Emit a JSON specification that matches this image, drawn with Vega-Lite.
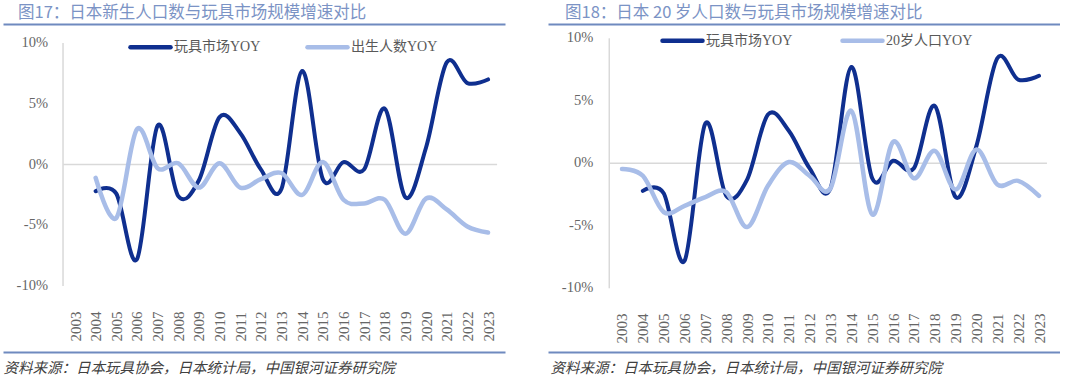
{
  "$schema": "https://vega.github.io/schema/vega-lite/v6.json",
  "background": "white",
  "padding": {"left": 3, "top": 4, "right": 0, "bottom": 0},
  "spacing": 43,
  "resolve": {"scale": {"color": "independent"}, "legend": {"color": "independent"}},
  "config": {"view": {"stroke": null}, "font": "Noto Sans CJK SC"},
  "datasets": {
    "ticks": [
      {"v": 10, "t": "10%"}, {"v": 5, "t": "5%"}, {"v": 0, "t": "0%"}, {"v": -5, "t": "-5%"}, {"v": -10, "t": "-10%"}
    ],
    "toy": [
      {"year": 2004, "value": -2.2}, {"year": 2005, "value": -2.4}, {"year": 2006, "value": -7.8},
      {"year": 2007, "value": 3.2}, {"year": 2008, "value": -2.6}, {"year": 2009, "value": -1.3},
      {"year": 2010, "value": 3.9}, {"year": 2011, "value": 2.6}, {"year": 2012, "value": -0.4},
      {"year": 2013, "value": -2.0}, {"year": 2014, "value": 7.7}, {"year": 2015, "value": -1.2},
      {"year": 2016, "value": 0.2}, {"year": 2017, "value": -0.4}, {"year": 2018, "value": 4.6},
      {"year": 2019, "value": -2.7}, {"year": 2020, "value": 1.4}, {"year": 2021, "value": 8.4},
      {"year": 2022, "value": 6.7}, {"year": 2023, "value": 7.0}
    ],
    "birth": [
      {"year": 2004, "value": -1.1}, {"year": 2005, "value": -4.4}, {"year": 2006, "value": 2.9},
      {"year": 2007, "value": -0.3}, {"year": 2008, "value": 0.1}, {"year": 2009, "value": -1.9},
      {"year": 2010, "value": 0.1}, {"year": 2011, "value": -1.9}, {"year": 2012, "value": -1.2},
      {"year": 2013, "value": -0.7}, {"year": 2014, "value": -2.5}, {"year": 2015, "value": 0.2},
      {"year": 2016, "value": -2.9}, {"year": 2017, "value": -3.2}, {"year": 2018, "value": -2.9},
      {"year": 2019, "value": -5.7}, {"year": 2020, "value": -2.8}, {"year": 2021, "value": -3.7},
      {"year": 2022, "value": -5.1}, {"year": 2023, "value": -5.6}
    ],
    "age20": [
      {"year": 2003, "value": -0.45}, {"year": 2004, "value": -1.0}, {"year": 2005, "value": -3.9},
      {"year": 2006, "value": -3.4}, {"year": 2007, "value": -2.7}, {"year": 2008, "value": -2.3},
      {"year": 2009, "value": -5.1}, {"year": 2010, "value": -1.8}, {"year": 2011, "value": 0.1},
      {"year": 2012, "value": -1.0}, {"year": 2013, "value": -2.0}, {"year": 2014, "value": 4.2},
      {"year": 2015, "value": -4.1}, {"year": 2016, "value": 1.7}, {"year": 2017, "value": -1.2},
      {"year": 2018, "value": 1.0}, {"year": 2019, "value": -2.1}, {"year": 2020, "value": 1.1},
      {"year": 2021, "value": -1.7}, {"year": 2022, "value": -1.4}, {"year": 2023, "value": -2.6}
    ]
  },
  "hconcat": [
    {
      "width": 502,
      "height": 328,
      "title": {"text": "图17：日本新生人口数与玩具市场规模增速对比", "anchor": "start", "frame": "group", "dx": 15, "offset": -5, "baseline": "middle", "fontSize": 16.5, "font": "Noto Sans CJK SC", "fontWeight": "normal", "color": "#7b93c5"},
      "layer": [
        {
          "data": {"values": [
            {"x": 2002.42, "x2": 2002.42, "y": -10, "y2": 10},
            {"x": 2002.42, "x2": 2023.44, "y": 0, "y2": 0}
          ]},
          "mark": {"type": "rule", "color": "#d9d9d9", "strokeWidth": 1.5},
          "encoding": {
            "x": {"field": "x", "type": "quantitative", "scale": {"domain": [1999.513, 2023.823], "nice": false, "zero": false}, "axis": null},
            "x2": {"field": "x2"},
            "y": {"field": "y", "type": "quantitative", "scale": {"domain": [-15.432, 11.564], "nice": false, "zero": false}, "axis": null},
            "y2": {"field": "y2"}
          }
        },
        {
          "data": {"name": "ticks"},
          "mark": {"type": "text", "align": "right", "baseline": "middle", "dx": -15, "font": "Liberation Serif", "fontSize": 14.5, "color": "#666666"},
          "encoding": {
            "x": {"datum": 2002.42, "type": "quantitative", "scale": {"domain": [1999.513, 2023.823], "nice": false, "zero": false}, "axis": null},
            "y": {"field": "v", "type": "quantitative", "scale": {"domain": [-15.432, 11.564], "nice": false, "zero": false}, "axis": null},
            "text": {"field": "t"}
          }
        },
        {
          "data": {"name": "toy"},
          "mark": {"type": "line", "interpolate": "cardinal", "strokeWidth": 4, "strokeCap": "round"},
          "encoding": {
            "x": {"field": "year", "type": "quantitative", "scale": {"domain": [1999.513, 2023.823], "nice": false, "zero": false},
              "axis": {"orient": "bottom", "values": [2003,2004,2005,2006,2007,2008,2009,2010,2011,2012,2013,2014,2015,2016,2017,2018,2019,2020,2021,2022,2023], "format": "d", "labelAngle": 270, "labelAlign": "left", "labelBaseline": "middle", "labelPadding": -11, "labelFont": "Liberation Serif", "labelFontSize": 15, "labelColor": "#666666", "labelOverlap": false, "labelFlush": false, "labelBound": false, "ticks": false, "tickSize": 0, "grid": false, "domain": true, "domainColor": "#6f8abf", "domainWidth": 2, "title": "资料来源：日本玩具协会，日本统计局，中国银河证券研究院", "titleFont": "Noto Sans CJK SC", "titleFontSize": 14.5, "titleFontStyle": "italic", "titleFontWeight": "normal", "titleColor": "#404040", "titleAnchor": "start", "titleAlign": "left", "titleBaseline": "middle", "titleX": 0, "titleY": 16}},
            "y": {"field": "value", "type": "quantitative", "scale": {"domain": [-15.432, 11.564], "nice": false, "zero": false}, "axis": null},
            "color": {"datum": "玩具市场YOY", "type": "nominal", "scale": {"domain": ["玩具市场YOY", "出生人数YOY"], "range": ["#0f2f8f", "#a8bde8"]},
              "legend": {"orient": "none", "legendX": 120, "legendY": 15.5, "direction": "horizontal", "title": null, "symbolType": "M0,0H8", "symbolSize": 100, "symbolStrokeWidth": 4.5, "labelFont": "Liberation Serif, Noto Sans CJK SC", "labelFontSize": 14, "labelColor": "#595959", "labelOffset": 36, "columnPadding": 37, "padding": 0,
                "encode": {"symbols": {"update": {"strokeCap": {"value": "round"}}}}}}
          }
        },
        {
          "data": {"name": "birth"},
          "mark": {"type": "line", "interpolate": "cardinal", "strokeWidth": 4.5, "strokeCap": "round"},
          "encoding": {
            "x": {"field": "year", "type": "quantitative", "scale": {"domain": [1999.513, 2023.823], "nice": false, "zero": false},
              "axis": {"orient": "top", "labels": false, "ticks": false, "grid": false, "domain": true, "domainColor": "#6f8abf", "domainWidth": 2, "title": null}},
            "y": {"field": "value", "type": "quantitative", "scale": {"domain": [-15.432, 11.564], "nice": false, "zero": false}, "axis": null},
            "color": {"datum": "出生人数YOY", "type": "nominal", "legend": null}
          }
        }
      ]
    },
    {
      "width": 512,
      "height": 328,
      "title": {"text": "图18：日本 20 岁人口数与玩具市场规模增速对比", "anchor": "start", "frame": "group", "dx": 17, "offset": -5, "baseline": "middle", "fontSize": 16.5, "font": "Noto Sans CJK SC", "fontWeight": "normal", "color": "#7b93c5"},
      "layer": [
        {
          "data": {"values": [
            {"x": 2002.39, "x2": 2002.39, "y": -10, "y2": 10},
            {"x": 2002.39, "x2": 2023.38, "y": 0, "y2": 0}
          ]},
          "mark": {"type": "rule", "color": "#d9d9d9", "strokeWidth": 1.5},
          "encoding": {
            "x": {"field": "x", "type": "quantitative", "scale": {"domain": [1999.451, 2024.007], "nice": false, "zero": false}, "axis": null},
            "x2": {"field": "x2"},
            "y": {"field": "y", "type": "quantitative", "scale": {"domain": [-15.096, 11.144], "nice": false, "zero": false}, "axis": null},
            "y2": {"field": "y2"}
          }
        },
        {
          "data": {"name": "ticks"},
          "mark": {"type": "text", "align": "right", "baseline": "middle", "dx": -16, "font": "Liberation Serif", "fontSize": 14.5, "color": "#666666"},
          "encoding": {
            "x": {"datum": 2002.39, "type": "quantitative", "scale": {"domain": [1999.451, 2024.007], "nice": false, "zero": false}, "axis": null},
            "y": {"field": "v", "type": "quantitative", "scale": {"domain": [-15.096, 11.144], "nice": false, "zero": false}, "axis": null},
            "text": {"field": "t"}
          }
        },
        {
          "data": {"name": "toy"},
          "mark": {"type": "line", "interpolate": "cardinal", "strokeWidth": 4, "strokeCap": "round"},
          "encoding": {
            "x": {"field": "year", "type": "quantitative", "scale": {"domain": [1999.451, 2024.007], "nice": false, "zero": false},
              "axis": {"orient": "bottom", "values": [2003,2004,2005,2006,2007,2008,2009,2010,2011,2012,2013,2014,2015,2016,2017,2018,2019,2020,2021,2022,2023], "format": "d", "labelAngle": 270, "labelAlign": "left", "labelBaseline": "middle", "labelPadding": -9, "labelFont": "Liberation Serif", "labelFontSize": 15, "labelColor": "#666666", "labelOverlap": false, "labelFlush": false, "labelBound": false, "ticks": false, "tickSize": 0, "grid": false, "domain": true, "domainColor": "#6f8abf", "domainWidth": 2, "title": "资料来源：日本玩具协会，日本统计局，中国银河证券研究院", "titleFont": "Noto Sans CJK SC", "titleFontSize": 14.5, "titleFontStyle": "italic", "titleFontWeight": "normal", "titleColor": "#404040", "titleAnchor": "start", "titleAlign": "left", "titleBaseline": "middle", "titleX": 2, "titleY": 16}},
            "y": {"field": "value", "type": "quantitative", "scale": {"domain": [-15.096, 11.144], "nice": false, "zero": false}, "axis": null},
            "color": {"datum": "玩具市场YOY", "type": "nominal", "scale": {"domain": ["玩具市场YOY", "20岁人口YOY"], "range": ["#0f2f8f", "#a8bde8"]},
              "legend": {"orient": "none", "legendX": 107, "legendY": 9, "direction": "horizontal", "title": null, "symbolType": "M0,0H8", "symbolSize": 100, "symbolStrokeWidth": 4.5, "labelFont": "Liberation Serif, Noto Sans CJK SC", "labelFontSize": 14, "labelColor": "#595959", "labelOffset": 36, "columnPadding": 40, "padding": 0,
                "encode": {"symbols": {"update": {"strokeCap": {"value": "round"}}}}}}
          }
        },
        {
          "data": {"name": "age20"},
          "mark": {"type": "line", "interpolate": "cardinal", "strokeWidth": 4.5, "strokeCap": "round"},
          "encoding": {
            "x": {"field": "year", "type": "quantitative", "scale": {"domain": [1999.451, 2024.007], "nice": false, "zero": false},
              "axis": {"orient": "top", "labels": false, "ticks": false, "grid": false, "domain": true, "domainColor": "#6f8abf", "domainWidth": 2, "title": null}},
            "y": {"field": "value", "type": "quantitative", "scale": {"domain": [-15.096, 11.144], "nice": false, "zero": false}, "axis": null},
            "color": {"datum": "20岁人口YOY", "type": "nominal", "legend": null}
          }
        }
      ]
    }
  ]
}
